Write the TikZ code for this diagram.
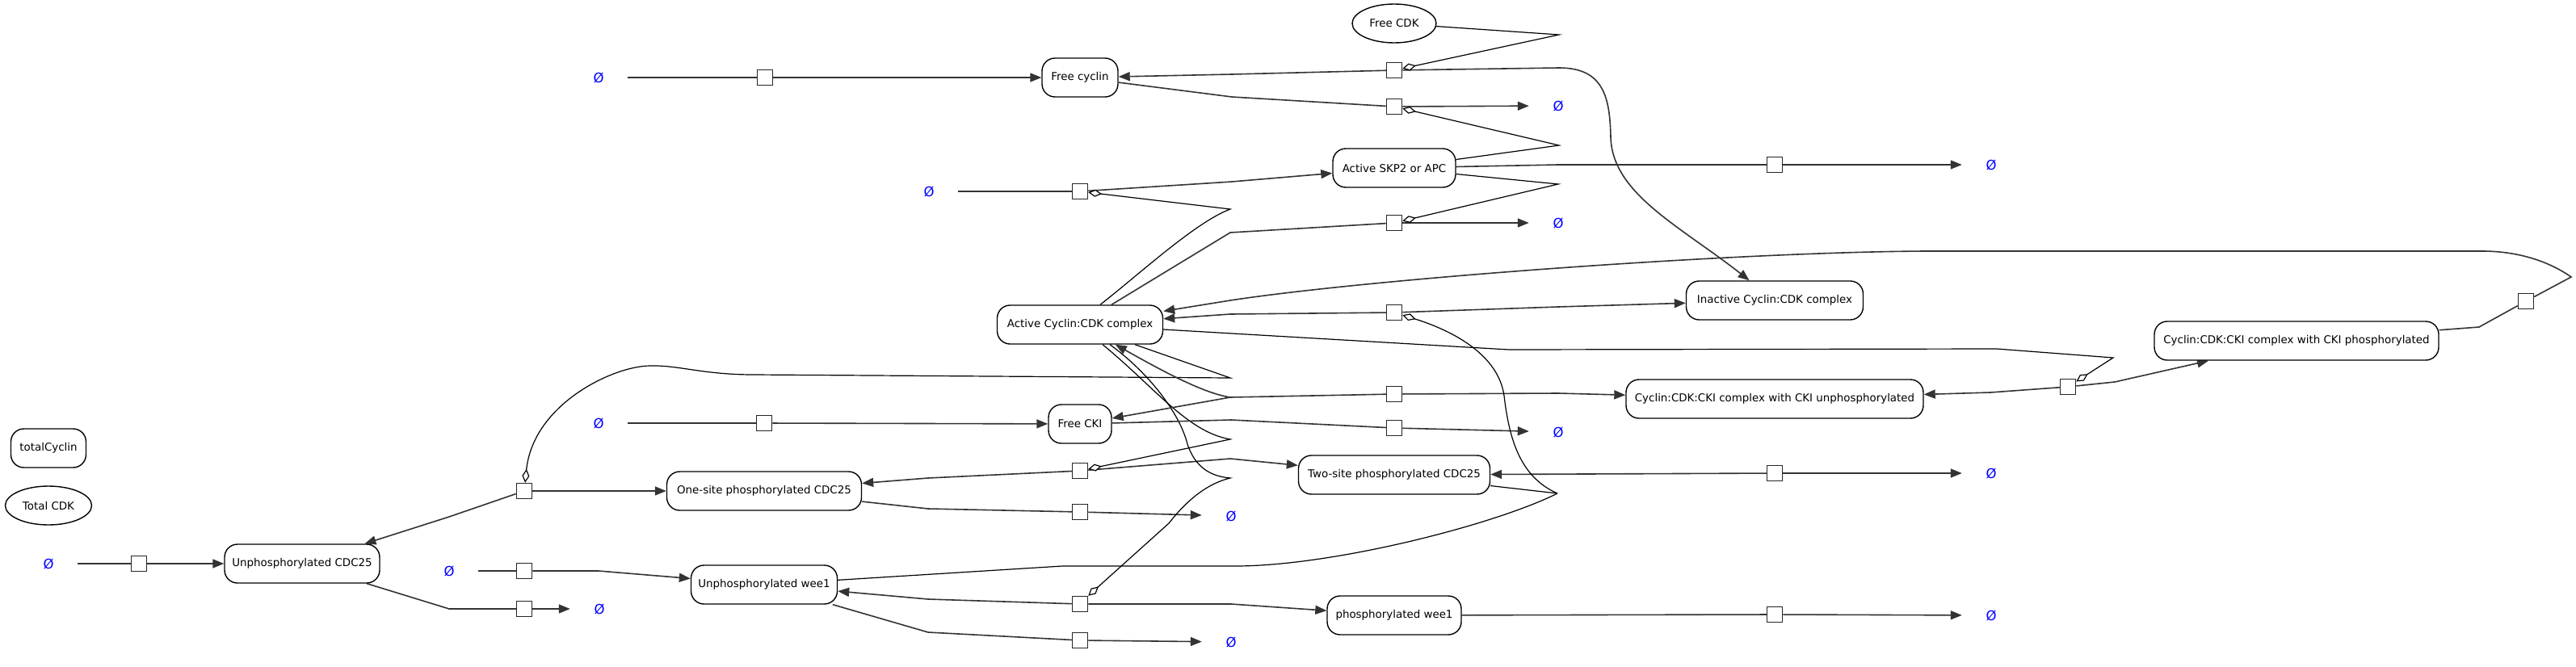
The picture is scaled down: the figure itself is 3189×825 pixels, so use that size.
\documentclass[tikz,border=0pt]{standalone}
\usepackage{fontspec}
\setmainfont{DejaVu Sans}
\usetikzlibrary{arrows.meta,shapes.geometric}
\pgfdeclarelayer{bg}
\pgfsetlayers{bg,main}
\begin{document}
\begin{tikzpicture}[x=1pt,y=-1pt,
  sp/.style={draw=black, line width=1.4pt, fill=white, rounded corners=16pt, minimum height=48pt, inner sep=2pt, font=\fontsize{13.4}{16}\selectfont},
  el/.style={draw=black, line width=1.4pt, fill=white, ellipse, minimum height=48pt, inner sep=1pt, font=\fontsize{13.4}{16}\selectfont},
  sq/.style={draw=black!85, line width=1.5pt, fill=white, minimum size=19pt, inner sep=0pt},
  emp/.style={text=blue, font=\fontsize{16.5}{18}\selectfont, minimum width=72pt, minimum height=20pt, inner sep=0pt},
  rx/.style={draw=black!80, line width=1.6pt},
  tri/.style={-{Triangle[length=14pt,width=11pt]}},
  mod/.style={draw=black, line width=1.2pt, -{Diamond[fill=white,length=17pt,width=9pt]}},
  modl/.style={draw=black, line width=1.2pt}]
\useasboundingbox (0,0) rectangle (3189,825);
% species
\node[sp,minimum width=94pt] (FC) at (1337,96) {Free cyclin};
\node[el,minimum width=104pt] (FCDK) at (1726,29) {Free CDK};
\node[sp,minimum width=152pt] (SKP) at (1726,208) {Active SKP2 or APC};
\node[sp,minimum width=205pt] (ACC) at (1337,402) {Active Cyclin:CDK complex};
\node[sp,minimum width=219pt] (ICC) at (2197,372) {Inactive Cyclin:CDK complex};
\node[sp,minimum width=352pt] (CKIP) at (2843,422) {Cyclin:CDK:CKI complex with CKI phosphorylated};
\node[sp,minimum width=368pt] (CKIU) at (2197,494) {Cyclin:CDK:CKI complex with CKI unphosphorylated};
\node[sp,minimum width=78pt] (FCKI) at (1337,525) {Free CKI};
\node[sp,minimum width=237pt] (TS) at (1726,588) {Two-site phosphorylated CDC25};
\node[sp,minimum width=241pt] (OS) at (946,608) {One-site phosphorylated CDC25};
\node[sp,minimum width=192pt] (U25) at (374,698) {Unphosphorylated CDC25};
\node[sp,minimum width=181pt] (UW) at (946,724) {Unphosphorylated wee1};
\node[sp,minimum width=166pt] (PW) at (1726,762) {phosphorylated wee1};
\node[sp,minimum width=93pt] (TCy) at (60,555) {totalCyclin};
\node[el,minimum width=107pt] (TCDK) at (60,626) {Total CDK};
% reaction squares
\node[sq] (q1) at (172,698) {};
\node[sq] (q2) at (649,754) {};
\node[sq] (q3) at (649,608) {};
\node[sq] (q4) at (649,707) {};
\node[sq] (q5) at (1337,634) {};
\node[sq] (q6) at (1337,583) {};
\node[sq] (q7) at (946,524) {};
\node[sq] (q8) at (947,96) {};
\node[sq] (q9) at (1726,87) {};
\node[sq] (q10) at (1726,132) {};
\node[sq] (q11) at (1337,237) {};
\node[sq] (q12) at (1726,276) {};
\node[sq] (q13) at (2197,204) {};
\node[sq] (q14) at (1726,387) {};
\node[sq] (q15) at (1726,488) {};
\node[sq] (q16) at (1726,530) {};
\node[sq] (q17) at (2560,479) {};
\node[sq] (q18) at (3127,373) {};
\node[sq] (q19) at (2197,586) {};
\node[sq] (q20) at (2197,761) {};
\node[sq] (q21) at (1337,748) {};
\node[sq] (q22) at (1337,793) {};
% empty sets
\node[emp] (eA) at (60,698) {Ø};
\node[emp] (eB) at (741,96) {Ø};
\node[emp] (eC) at (1929,131) {Ø};
\node[emp] (eD) at (2465,204) {Ø};
\node[emp] (eE) at (1150,237) {Ø};
\node[emp] (eF) at (1929,276) {Ø};
\node[emp] (eG) at (741,524) {Ø};
\node[emp] (eH) at (1929,535) {Ø};
\node[emp] (eI) at (2465,586) {Ø};
\node[emp] (eJ) at (1524,639) {Ø};
\node[emp] (eK) at (556,707) {Ø};
\node[emp] (eL) at (742,754) {Ø};
\node[emp] (eM) at (2465,762) {Ø};
\node[emp] (eN) at (1524,795) {Ø};
% joints
\coordinate (j3) at (1523,468);
\coordinate (j15) at (1523,492);
\coordinate (j6) at (1523,544);
\coordinate (j21) at (1523,592);
\coordinate (jw) at (1928,611);
\begin{pgfonlayer}{bg}
% CDC25 synthesis / degradation / phosphorylation
\draw[rx] (eA) -- (q1); \draw[rx,tri] (q1) -- (U25);
\draw[rx] (U25) -- (556,754) -- (q2); \draw[rx,tri] (q2) -- (eL);
\draw[rx,tri] (q3) -- (556,640) -- (U25); \draw[rx,tri] (q3) -- (741,608) -- (OS);
\draw[mod] ([xshift=68pt]ACC.south) -- (j3) -- (933,464) .. controls (870,464) and (840,452) .. (805,453) .. controls (760,453) and (660,500) .. (q3);
\draw[rx] (OS) -- (1149,630) -- (q5); \draw[rx,tri] (q5) -- (eJ);
\draw[rx,tri] (q6) -- (1149,592) -- (OS); \draw[rx,tri] (q6) -- (1523,568) -- (TS);
\draw[mod] ([xshift=28pt]ACC.south) .. controls (1430,480) and (1470,535) .. (j6) -- (q6);
\draw[rx,tri] (q19) -- (TS); \draw[rx,tri] (q19) -- (eI);
% wee1
\draw[rx] (eK) -- (q4); \draw[rx,tri] (q4) -- (741,707) -- (UW);
\draw[rx,tri] (q21) -- (1149,742) -- (UW); \draw[rx,tri] (q21) -- (1524,748) -- (PW);
\draw[mod] ([xshift=37pt]ACC.south) .. controls (1420,460) and (1460,510) .. (1470,550) .. controls (1480,580) and (1500,590) .. (j21) .. controls (1490,600) and (1465,625) .. (1447,648) -- (q21.north east);
\draw[rx] (UW) -- (1149,783) -- (q22); \draw[rx,tri] (q22) -- (eN);
\draw[rx] (PW) -- (q20); \draw[rx,tri] (q20) -- (eM);
% CKI
\draw[rx] (eG) -- (q7); \draw[rx,tri] (q7) -- (FCKI);
\draw[rx] (FCKI) -- (1524,520) -- (q16); \draw[rx,tri] (q16) -- (eH);
\draw[rx,tri] (q15) -- (j15) .. controls (1490,487) and (1440,460) .. (ACC);
\draw[rx,tri] (j15) -- (FCKI);
\draw[rx,tri] (q15) -- (1929,487) -- (CKIU);
\draw[rx,tri] (q17) -- (2464,486) -- (CKIU); \draw[rx,tri] (q17) -- (2618,473) -- (CKIP);
\draw[mod] (ACC) -- (1868,433) -- (2472,432) -- (2616,443) -- (q17);
\draw[rx] (CKIP) -- (3069,405) -- (q18);
\draw[rx,tri] (q18) -- (3183,343) .. controls (3150,320) and (3110,311) .. (3073,311) -- (2385,311) .. controls (2150,312) and (1700,345) .. (1523,372) -- (ACC);
% cyclin
\draw[rx] (eB) -- (q8); \draw[rx,tri] (q8) -- (FC);
\draw[rx,tri] (q9) -- (1525,92) -- (FC);
\draw[rx,tri] (q9) -- (1930,84) .. controls (1985,84) and (1993,120) .. (1994,170) .. controls (1996,240) and (2080,280) .. (ICC);
\draw[mod] (FCDK) -- (1930,43) -- (q9);
\draw[rx] (FC) -- (1525,120) -- (q10); \draw[rx,tri] (q10) -- (eC);
\draw[mod] (SKP) -- (1930,180) -- (q10);
% SKP2
\draw[rx] (eE) -- (q11); \draw[rx,tri] (q11) -- (1525,225) -- (SKP);
\draw[mod] ([xshift=25pt]ACC.north) .. controls (1410,340) and (1480,275) .. (1523,259) -- (q11);
\draw[rx] ([xshift=39pt]ACC.north) -- (1523,288) -- (q12); \draw[rx,tri] (q12) -- (eF);
\draw[mod] (SKP) -- (1929,228) -- (q12);
\draw[rx] (SKP) -- (1929,204) -- (q13); \draw[rx,tri] (q13) -- (eD);
% activation / inactivation
\draw[rx,tri] (q14) -- (1523,389) -- (ACC); \draw[rx,tri] (q14) -- (1929,380) -- (ICC);
\draw[modl] (TS) -- (jw);
\draw[modl] (UW) -- (1315,701) -- (1529,701) .. controls (1650,701) and (1850,650) .. (jw);
\draw[mod] (jw) .. controls (1880,590) and (1868,540) .. (1862,490) .. controls (1855,440) and (1800,410) .. (q14);
\end{pgfonlayer}
\end{tikzpicture}
\end{document}
